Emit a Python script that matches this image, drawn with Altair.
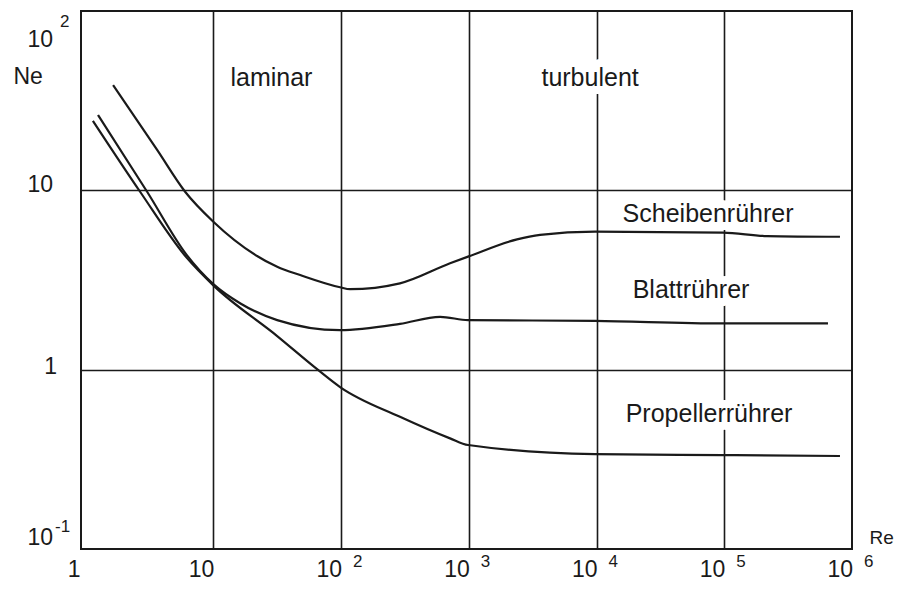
import altair as alt
import pandas as pd

# ---------------- data ----------------
sch_re = [1.64, 3.63, 6.01, 10, 31.6, 47.8, 98.2, 117.6, 289, 713, 987, 2386, 3614, 9727, 97700, 215800, 805000]
sch_ne = [38.6, 16.8, 9.82, 6.68, 3.75, 3.37, 2.88, 2.81, 3.03, 3.92, 4.27, 5.33, 5.64, 5.88, 5.81, 5.56, 5.51]

bla_re = [1.25, 3.03, 6.2, 10, 16.3, 31.6, 98.2, 289, 596, 987, 9727, 97700, 648600]
bla_ne = [26.3, 9.82, 4.35, 3.0, 2.34, 1.89, 1.66, 1.80, 1.97, 1.89, 1.87, 1.81, 1.81]

pro_re = [1.14, 2.67, 6.2, 10, 31.6, 64.5, 98.2, 289, 713, 987, 9727, 97700, 805000]
pro_ne = [24.4, 9.82, 4.2, 2.95, 1.54, 1.01, 0.80, 0.546, 0.414, 0.38, 0.338, 0.334, 0.33]

series_names = ["Scheibenrührer", "Blattrührer", "Propellerrührer"]

x_tick_values = [1, 10, 100, 1000, 10000, 100000, 1000000]
x_tick_base = ["1", "10", "10", "10", "10", "10", "10"]
x_tick_exp = ["", "", "2", "3", "4", "5", "6"]

y_tick_values = [100, 10, 1, 0.1]
y_tick_base = ["10", "10", "1", "10"]
y_tick_exp = ["2", "", "", "-1"]

x_grid = [10, 100, 1000, 10000, 100000]
y_grid = [1, 10]

region_labels = ["laminar", "turbulent"]
region_re = [28.5, 8900]
region_ne = [38.4, 38.4]

curve_label_re = [74700, 54900, 76000]
curve_label_ne = [6.65, 2.51, 0.51]

# ---------------- styling ----------------
W, H = 771, 538
INK = "#1a1a1a"
FONT = "Liberation Sans"

x_scale = alt.Scale(type="log", domain=[0.92, 1e6], nice=False)
y_scale = alt.Scale(type="log", domain=[0.1, 100], nice=False)

x_axis = alt.Axis(values=x_grid, grid=True, labels=False, ticks=False, domain=False,
                  gridColor=INK, gridWidth=1.6, gridOpacity=1,
                  title="Re", titleX=788, titleY=-6, titleAlign="left",
                  titleBaseline="alphabetic", titleFont=FONT, titleFontSize=19,
                  titleFontWeight="normal", titleColor=INK)
y_axis = alt.Axis(values=y_grid, grid=True, labels=False, ticks=False, domain=False,
                  gridColor=INK, gridWidth=1.6, gridOpacity=1,
                  title="Ne", titleAngle=0, titleX=-68, titleY=72, titleAlign="left",
                  titleBaseline="alphabetic", titleFont=FONT, titleFontSize=23,
                  titleFontWeight="normal", titleColor=INK)


def X():
    return alt.X("re:Q", scale=x_scale, axis=x_axis)


def Y():
    return alt.Y("ne:Q", scale=y_scale, axis=y_axis)


# ---------------- tables ----------------
rows = []
for name, rs, ns in zip(series_names, [sch_re, bla_re, pro_re], [sch_ne, bla_ne, pro_ne]):
    for i, (r, n) in enumerate(zip(rs, ns)):
        rows.append({"series": name, "re": r, "ne": n, "order": i})
curves_df = pd.DataFrame(rows)

xt_df = pd.DataFrame({"re": x_tick_values, "base": x_tick_base, "exp": x_tick_exp})
yt_df = pd.DataFrame({"ne": y_tick_values, "base": y_tick_base, "exp": y_tick_exp})

ann_df = pd.DataFrame({
    "re": region_re + curve_label_re,
    "ne": region_ne + curve_label_ne,
    "label": region_labels + series_names,
})

# ---------------- layers ----------------
halo = alt.Chart(ann_df).mark_text(
    font=FONT, fontSize=25, align="center", baseline="alphabetic",
    color="white", stroke="white", strokeWidth=16, strokeJoin="round"
).encode(x=X(), y=Y(), text="label:N")

lines = alt.Chart(curves_df).mark_line(
    color=INK, strokeWidth=2.2, interpolate="monotone"
).encode(x=X(), y=Y(), detail="series:N", order="order:Q")

ann_text = alt.Chart(ann_df).mark_text(
    font=FONT, fontSize=25, align="center", baseline="alphabetic", color=INK
).encode(x=X(), y=Y(), text="label:N")

# x tick labels
xt_one = alt.Chart(xt_df).transform_filter("datum.re == 1").mark_text(
    font=FONT, fontSize=23, align="right", baseline="alphabetic", color=INK, dx=-5, dy=28
).encode(x=X(), y=alt.value(H), text="base:N")
xt_base = alt.Chart(xt_df).transform_filter("datum.re > 1").mark_text(
    font=FONT, fontSize=23, align="right", baseline="alphabetic", color=INK, dx=1, dy=28
).encode(x=X(), y=alt.value(H), text="base:N")
xt_exp = alt.Chart(xt_df).transform_filter("datum.exp != ''").mark_text(
    font=FONT, fontSize=17, align="left", baseline="alphabetic", color=INK, dx=12, dy=18
).encode(x=X(), y=alt.value(H), text="exp:N")

# y tick labels (each with its own offset as in the reference)
base_dx = [-28, -28, -24, -28]
base_dy = [36, 2, 4, -4]
exp_dx = [-21, 0, 0, -26]
exp_dy = [16, 0, 0, -17]
y_layers = []
for i, v in enumerate(y_tick_values):
    y_layers.append(
        alt.Chart(yt_df).transform_filter(f"datum.ne == {v}").mark_text(
            font=FONT, fontSize=23, align="right", baseline="alphabetic", color=INK,
            dx=base_dx[i], dy=base_dy[i]
        ).encode(x=alt.value(0), y=Y(), text="base:N")
    )
    if y_tick_exp[i]:
        y_layers.append(
            alt.Chart(yt_df).transform_filter(f"datum.ne == {v}").mark_text(
                font=FONT, fontSize=17, align="left", baseline="alphabetic", color=INK,
                dx=exp_dx[i], dy=exp_dy[i]
            ).encode(x=alt.value(0), y=Y(), text="exp:N")
        )

chart = alt.layer(
    halo, lines, ann_text, xt_one, xt_base, xt_exp, *y_layers
).properties(
    width=W, height=H,
    autosize=alt.AutoSizeParams(type="none"),
    padding={"left": 73, "top": 3, "right": 43, "bottom": 32},
    background="white",
).configure_view(
    stroke=INK, strokeWidth=2
)

chart.save("out.html", embed_options={"renderer": "svg", "actions": False})
